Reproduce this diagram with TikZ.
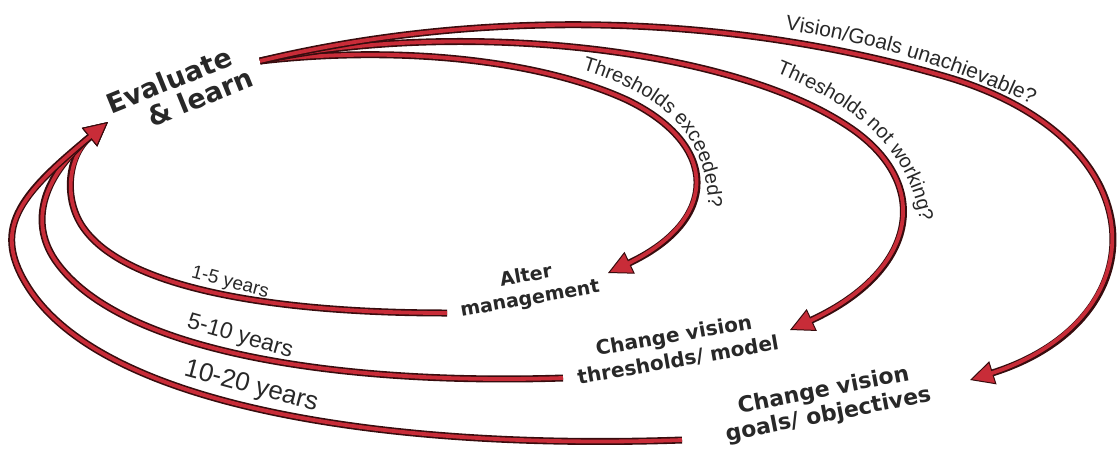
\documentclass[tikz,border=0pt]{standalone}
\usepackage{fontspec}
\setmainfont{Liberation Sans}
\newfontfamily\heavy{DejaVu Sans}
\usetikzlibrary{arrows.meta,decorations.text}
\definecolor{arrowred}{RGB}{200,44,56}
\definecolor{arrowdark}{RGB}{55,12,14}
\definecolor{txt}{RGB}{40,40,40}
\begin{document}
\begin{tikzpicture}[x=1pt,y=-1pt,
  flow/.style={draw=arrowdark, line width=7pt,
    -{Triangle[length=24pt,width=24pt,line width=1pt,fill=arrowred]},
    postaction={draw=arrowred, line width=3.8pt, arrows=-, shorten >=19pt}},
  boldlab/.style={text=txt, inner sep=0pt, align=center},
  lab/.style={text=txt, inner sep=0pt},
  curvelab/.style={decorate, decoration={text along path, text align=left, text color=txt, text={#1}}}
]
\useasboundingbox (0,0) rectangle (1118,448);

% nodes
\node[boldlab, rotate=22, font=\heavy\bfseries\fontsize{27}{30}\selectfont] (eval1) at (169,80) {Evaluate};
\node[boldlab, rotate=22, font=\heavy\bfseries\fontsize{27}{30}\selectfont] (eval2) at (200,97) {\& learn};
\node[boldlab, rotate=10, font=\heavy\bfseries\fontsize{19}{23}\selectfont] (alter) at (528,288) {Alter\\management};
\node[boldlab, rotate=10, font=\heavy\bfseries\fontsize{20}{25}\selectfont] (thresh) at (676,348) {Change vision\\thresholds/ model};
\node[boldlab, rotate=11, font=\heavy\bfseries\fontsize{22}{25}\selectfont] (goals) at (826,403) {Change vision\\goals/ objectives};

\node[lab, rotate=-15, font=\fontsize{19}{22}\selectfont] (y1) at (230,283) {1-5 years};
\node[lab, rotate=-16, font=\fontsize{23}{26}\selectfont] (y2) at (240,337) {5-10 years};
\node[lab, rotate=-15, font=\fontsize{26}{30}\selectfont] (y3) at (251,387) {10-20 years};

% connector ends
\coordinate (tail) at (260,61);
\coordinate (h1) at (608,273);
\coordinate (h2) at (790,330);
\coordinate (h3) at (970,380);
\coordinate (r1) at (447,313);
\coordinate (r2) at (563,378);
\coordinate (r3) at (682,440);
\coordinate (back) at (108,122);

% outward arrows
\draw[flow] (tail) .. controls (400,45) and (540,60) .. (627,100) .. controls (720,145) and (720,220) .. (h1);
\draw[flow] (tail) .. controls (450,20) and (720,45) .. (843,123) .. controls (935,180) and (920,270) .. (h2);
\draw[flow] (tail) .. controls (450,15) and (700,5) .. (947,77) .. controls (1160,140) and (1160,320) .. (h3);

% return arrows
\draw[flow] (r1) .. controls (280,313) and (130,290) .. (85,230) .. controls (62,200) and (68,155) .. (back);
\draw[flow] (r2) .. controls (350,385) and (120,355) .. (55,260) .. controls (28,220) and (45,174) .. (back);
\draw[flow] (r3) .. controls (400,450) and (110,410) .. (30,290) .. controls (-10,230) and (18,196) .. (back);

% curved labels
\path[curvelab={|\fontsize{20}{24}\selectfont|Thresholds exceeded?}] (582,70) .. controls (662,94) and (714,135) .. (708,225);
\path[curvelab={|\fontsize{20}{24}\selectfont|Thresholds not working?}] (776,73) .. controls (852,104) and (920,150) .. (922,245);
\path[curvelab={|\fontsize{21}{24}\selectfont|Vision/Goals unachievable?}] (785,30) .. controls (880,44) and (980,74) .. (1075,127);
\end{tikzpicture}
\end{document}
